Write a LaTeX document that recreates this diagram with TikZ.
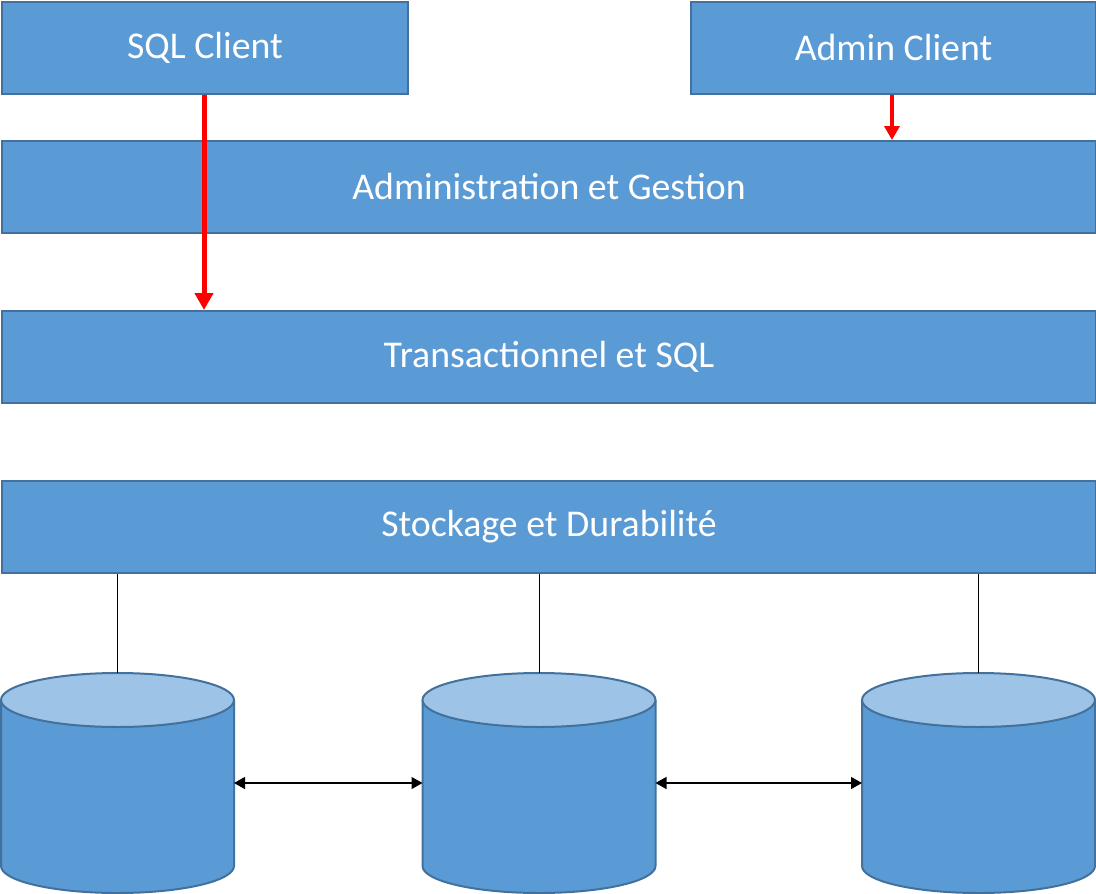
\documentclass[tikz,border=0pt]{standalone}
\usepackage{fontspec}
\setmainfont{Carlito}
\usetikzlibrary{arrows.meta}
\definecolor{boxfill}{HTML}{5B9BD5}
\definecolor{boxline}{HTML}{41719C}
\definecolor{cyltop}{HTML}{9DC3E6}
\tikzset{
  layer/.style={draw=boxline, line width=2pt, fill=boxfill, text=white, anchor=north west,
    inner sep=0pt, font=\fontsize{37.8}{44}\selectfont},
  redarrow/.style={draw=red, line width=5pt, -{Triangle[width=18pt,length=17pt]}},
  redarrowsmall/.style={draw=red, line width=4.5pt, -{Triangle[width=15pt,length=14pt]}},
  link/.style={draw=black, line width=1pt},
  duplex/.style={draw=black, line width=1.3pt, {Triangle[width=12pt,length=11pt]}-{Triangle[width=12pt,length=11pt]}},
  cyllid/.style={fill=cyltop, draw=boxline, line width=2pt}
}
\begin{document}
\begin{tikzpicture}[x=1pt, y=-1pt]
\useasboundingbox (0,0) rectangle (1096,894);
\node[layer, minimum width=406pt, minimum height=92pt] (sql) at (1,1) {SQL Client};
\node[layer, minimum width=405pt, minimum height=92pt] (admin) at (690,1) {Admin Client};
\node[layer, minimum width=1094pt, minimum height=92pt] (gest) at (1,140) {Administration et Gestion};
\node[layer, minimum width=1094pt, minimum height=92pt] (trans) at (1,310) {Transactionnel et SQL};
\node[layer, minimum width=1094pt, minimum height=92pt] (stock) at (1,480) {Stockage et Durabilité};
% cylinders
\foreach \n/\cx in {1/117.5, 2/539, 3/978.5}{
  \fill[boxfill] (\cx-116.5,700) -- (\cx-116.5,866) arc[start angle=180, end angle=0, x radius=116.5, y radius=27] -- (\cx+116.5,700) -- cycle;
  \draw[boxline, line width=2pt] (\cx-116.5,700) -- (\cx-116.5,866) arc[start angle=180, end angle=0, x radius=116.5, y radius=27] -- (\cx+116.5,700);
  \draw[cyllid] (\cx,700) ellipse [x radius=116.5, y radius=27];
  \coordinate (top\n) at (\cx,673);
  \coordinate (left\n) at (\cx-116.5,783);
  \coordinate (right\n) at (\cx+116.5,783);
}
\coordinate (s1) at (stock.south -| top1);
\coordinate (s2) at (stock.south -| top2);
\coordinate (s3) at (stock.south -| top3);
\draw[link] (s1) -- (top1);
\draw[link] (s2) -- (top2);
\draw[link] (s3) -- (top3);
\draw[duplex] (right1) -- (left2);
\draw[duplex] (right2) -- (left3);
% red arrows
\coordinate (a1) at (sql.south -| 204,0);
\coordinate (a2) at (trans.north -| 204,0);
\draw[redarrow] (a1) -- (a2);
\coordinate (b1) at (admin.south -| 892,0);
\coordinate (b2) at (gest.north -| 892,0);
\draw[redarrowsmall] (b1) -- (b2);
\end{tikzpicture}
\end{document}
